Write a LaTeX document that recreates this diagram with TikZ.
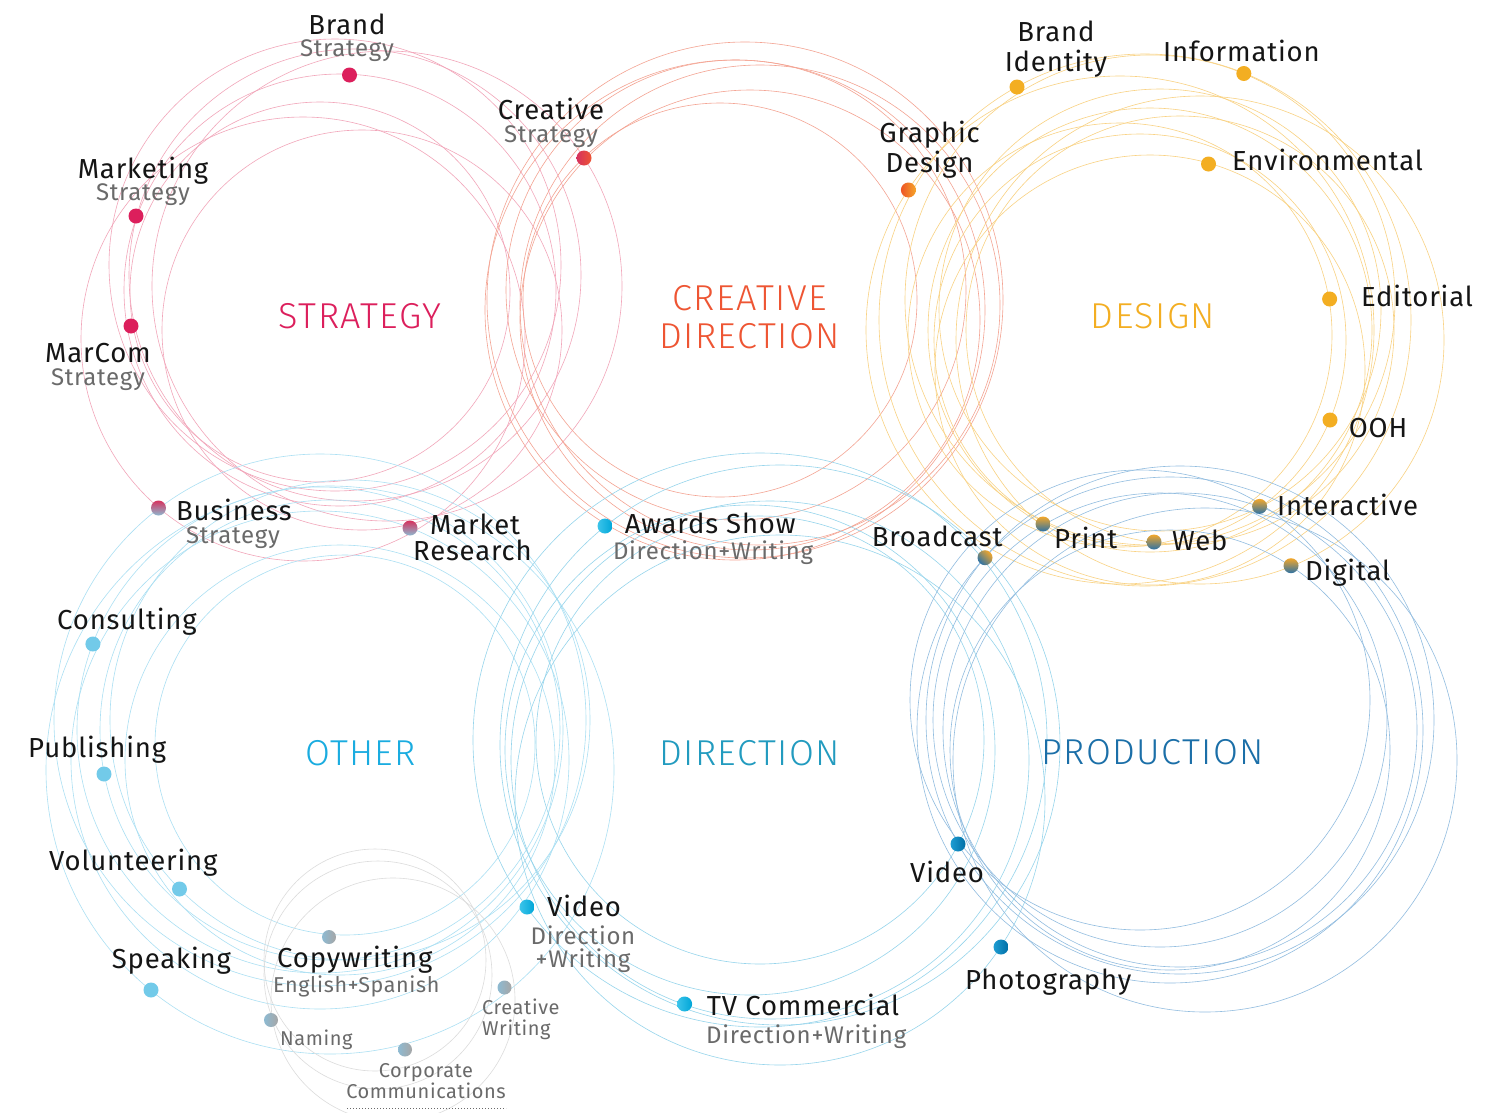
\documentclass[tikz,border=0pt]{standalone}
\usepackage{fontspec}
\setmainfont{Fira Sans}[LetterSpace=3.0]
\newfontfamily\catfont{Fira Sans Light}[LetterSpace=4.0]
\definecolor{labk}{HTML}{151515}
\definecolor{subgrey}{HTML}{6A6A6A}
\definecolor{stratc}{HTML}{DC1F5C}
\definecolor{credc}{HTML}{EE5533}
\definecolor{desc}{HTML}{F3AE22}
\definecolor{othc}{HTML}{1AACE0}
\definecolor{dirc}{HTML}{229BBF}
\definecolor{prodc}{HTML}{1B6FA8}
\definecolor{pinkl}{HTML}{F2A6BA}
\definecolor{salml}{HTML}{F4A493}
\definecolor{yell}{HTML}{F9D283}
\definecolor{othl}{HTML}{ACE0F3}
\definecolor{dirl}{HTML}{97D5EC}
\definecolor{prodl}{HTML}{92BDE0}
\definecolor{greyl}{HTML}{DCDCDC}
\definecolor{othdot}{HTML}{72CAE9}
\definecolor{dirA}{HTML}{3CC4EA}
\definecolor{dirB}{HTML}{00A6D8}
\definecolor{prodA}{HTML}{1E9DD2}
\definecolor{prodB}{HTML}{006EA6}
\definecolor{twoA}{HTML}{D6325E}
\definecolor{twoB}{HTML}{8DB8D0}
\definecolor{dpA}{HTML}{F3A72A}
\definecolor{dpB}{HTML}{2C72A6}
\definecolor{copyA}{HTML}{8DBAD2}
\definecolor{copyB}{HTML}{A6A6A6}
\definecolor{gdA}{HTML}{EE5526}
\definecolor{gdB}{HTML}{F5A52A}
\tikzset{
  ring/.style={line width=0.6pt},
  lab/.style={font=\fontsize{27.5}{30}\selectfont, text=labk, inner sep=0pt},
  sublab/.style={font=\fontsize{24}{26}\selectfont, text=subgrey, inner sep=0pt},
  sublabs/.style={font=\fontsize{21.5}{24}\selectfont, text=subgrey, inner sep=0pt},
  smalllab/.style={font=\fontsize{20}{22}\selectfont, text=subgrey, inner sep=0pt},
  cat/.style={font=\catfont\fontsize{36}{40}\selectfont, inner sep=0pt},
  skdot/.style={circle, inner sep=0pt, minimum size=15pt, draw=none},
  stratdot/.style={skdot, fill=stratc},
  desdot/.style={skdot, fill=desc},
  othdotst/.style={skdot, fill=othdot},
  dirdot/.style={skdot, left color=dirA, right color=dirB},
  proddot/.style={skdot, left color=prodA, right color=prodB},
  twodot/.style={skdot, top color=twoA, bottom color=twoB},
  dpdot/.style={skdot, top color=dpA, bottom color=dpB},
  copydot/.style={skdot, minimum size=14pt, left color=copyA, right color=copyB},
}
\begin{document}
\begin{tikzpicture}[x=1pt,y=-1pt]
\useasboundingbox (0,0) rectangle (1500,1112);
\fill[white] (0,0) rectangle (1500,1112);
% ---------- STRATEGY circles
\begin{scope}[ring, draw=pinkl]
\draw (340,290) circle[radius=216pt];
\draw (335,265) circle[radius=226pt];
\draw (355,275) circle[radius=226pt];
\draw (303,339) circle[radius=222pt];
\draw (362,330) circle[radius=200pt];
\draw (320,292) circle[radius=190pt];
\draw (387,286) circle[radius=235pt];
\end{scope}
% ---------- CREATIVE DIRECTION circles
\begin{scope}[ring, draw=salml]
\draw (745,300) circle[radius=258pt];
\draw (736,290) circle[radius=230pt];
\draw (760,305) circle[radius=240pt];
\draw (750,320) circle[radius=230pt];
\draw (720,300) circle[radius=197pt];
\draw (735,310) circle[radius=250pt];
\end{scope}
% ---------- DESIGN circles
\begin{scope}[ring, draw=yell]
\draw (1120,330) circle[radius=254pt];
\draw (1145,320) circle[radius=266pt];
\draw (1150,300) circle[radius=245pt];
\draw (1150,370) circle[radius=215pt];
\draw (1120,335) circle[radius=212pt];
\draw (1140,340) circle[radius=206pt];
\draw (1160,310) circle[radius=221pt];
\draw (1150,330) circle[radius=222pt];
\draw (1180,330) circle[radius=214pt];
\draw (1200,340) circle[radius=244pt];
\end{scope}
% ---------- OTHER circles
\begin{scope}[ring, draw=othl]
\draw (330,770) circle[radius=284pt];
\draw (320,730) circle[radius=243pt];
\draw (330,730) circle[radius=230pt];
\draw (350,720) circle[radius=240pt];
\draw (320,720) circle[radius=266pt];
\draw (320,760) circle[radius=249pt];
\draw (345,745) circle[radius=190pt];
\draw (340,760) circle[radius=215pt];
\end{scope}
% ---------- DIRECTION circles
\begin{scope}[ring, draw=dirl]
\draw (780,745) circle[radius=280pt];
\draw (770,760) circle[radius=259pt];
\draw (760,740) circle[radius=287pt];
\draw (780,800) circle[radius=265pt];
\draw (760,740) circle[radius=224pt];
\draw (750,750) circle[radius=245pt];
\end{scope}
% ---------- PRODUCTION circles
\begin{scope}[ring, draw=prodl]
\draw (1170,730) circle[radius=253pt];
\draw (1160,720) circle[radius=227pt];
\draw (1140,700) circle[radius=230pt];
\draw (1180,730) circle[radius=237pt];
\draw (1170,750) circle[radius=220pt];
\draw (1180,720) circle[radius=254pt];
\draw (1205,760) circle[radius=252pt];
\end{scope}
% ---------- COPYWRITING circles
\begin{scope}[ring, draw=greyl]
\draw (375,960) circle[radius=111pt];
\draw (378,975) circle[radius=114pt];
\draw (393,1000) circle[radius=122pt];
\end{scope}

% ---------- category labels
\node[cat, text=stratc, anchor=base] (cStrat) at (360,328.5) {STRATEGY};
\node[cat, text=credc, anchor=base] (cCre1) at (749.5,310) {CREATIVE};
\node[cat, text=credc, anchor=base] (cCre2) at (749.5,348) {DIRECTION};
\node[cat, text=desc, anchor=base] (cDes) at (1153,328) {DESIGN};
\node[cat, text=othc, anchor=base] (cOth) at (360.5,765.4) {OTHER};
\node[cat, text=dirc, anchor=base] (cDir) at (749.5,765.4) {DIRECTION};
\node[cat, text=prodc, anchor=base] (cProd) at (1153,764) {PRODUCTION};

% ---------- STRATEGY items
\node[stratdot] (dBrandS) at (349.5,75) {};
\node[lab, anchor=base] (tBrandS) at (347,34.5) {Brand};
\node[sublab, anchor=base] (sBrandS) at (347,56.5) {Strategy};
\node[skdot, left color=twoA, right color=credc] (dCreS) at (584,158) {};
\node[lab, anchor=base] (tCreS) at (551,119.5) {Creative};
\node[sublab, anchor=base] (sCreS) at (551,142) {Strategy};
\node[stratdot] (dMark) at (136,216) {};
\node[lab, anchor=base] (tMark) at (143,178.5) {Marketing};
\node[sublab, anchor=base] (sMark) at (143,200.6) {Strategy};
\node[stratdot] (dMarCom) at (131,326) {};
\node[lab, anchor=base] (tMarCom) at (98,362) {MarCom};
\node[sublab, anchor=base] (sMarCom) at (98,385) {Strategy};
\node[twodot] (dBus) at (158.5,508) {};
\node[lab, anchor=base west] (tBus) at (176,520) {Business};
\node[sublab, anchor=base] (sBus) at (233,543) {Strategy};
\node[twodot] (dMR) at (410,528) {};
\node[lab, anchor=base west] (tMR1) at (430,534) {Market};
\node[lab, anchor=base west] (tMR2) at (413,560) {Research};

% ---------- DESIGN items
\node[skdot, left color=gdA, right color=gdB] (dGD) at (908.4,190) {};
\node[lab, anchor=base] (tGD1) at (929.6,142) {Graphic};
\node[lab, anchor=base] (tGD2) at (929.6,172) {Design};
\node[desdot] (dBI) at (1017,87) {};
\node[lab, anchor=base] (tBI1) at (1056,41.5) {Brand};
\node[lab, anchor=base] (tBI2) at (1056,71) {Identity};
\node[desdot] (dInfo) at (1243.8,73.5) {};
\node[lab, anchor=base west] (tInfo) at (1163,61.3) {Information};
\node[desdot] (dEnv) at (1208.5,164) {};
\node[lab, anchor=base west] (tEnv) at (1232,170.8) {Environmental};
\node[desdot] (dEd) at (1329.6,299) {};
\node[lab, anchor=base west] (tEd) at (1361,306.4) {Editorial};
\node[desdot] (dOOH) at (1330,420) {};
\node[lab, anchor=base west] (tOOH) at (1348.6,437) {OOH};
\node[dpdot] (dInt) at (1259.6,506.4) {};
\node[lab, anchor=base west] (tInt) at (1277,515) {Interactive};
\node[dpdot, shading angle=-45] (dBroad) at (985,557.7) {};
\node[lab, anchor=base west] (tBroad) at (871.6,546) {Broadcast};
\node[dpdot] (dPrint) at (1043,524) {};
\node[lab, anchor=base west] (tPrint) at (1054,548.7) {Print};
\node[dpdot] (dWeb) at (1154,542) {};
\node[lab, anchor=base west] (tWeb) at (1171.8,550) {Web};
\node[dpdot] (dDig) at (1291,565.7) {};
\node[lab, anchor=base west] (tDig) at (1305,580.4) {Digital};

% ---------- DIRECTION items
\node[dirdot] (dAw) at (605,526) {};
\node[lab, anchor=base west] (tAw) at (624.6,533.6) {Awards Show};
\node[sublab, anchor=base west] (sAw) at (612.8,559) {Direction+Writing};
\node[dirdot] (dVidD) at (527,907) {};
\node[lab, anchor=base west] (tVidD) at (547,916.5) {Video};
\node[sublab, anchor=base] (sVidD1) at (583,944) {Direction};
\node[sublab, anchor=base] (sVidD2) at (583,967) {+Writing};
\node[dirdot] (dTV) at (684.6,1004) {};
\node[lab, anchor=base west] (tTV) at (706.7,1015.7) {TV Commercial};
\node[sublab, anchor=base west] (sTV) at (706,1043) {Direction+Writing};

% ---------- PRODUCTION items
\node[proddot] (dVidP) at (958,844) {};
\node[lab, anchor=base west] (tVidP) at (910,882.8) {Video};
\node[proddot] (dPhoto) at (1001,947) {};
\node[lab, anchor=base west] (tPhoto) at (965,989.6) {Photography};

% ---------- OTHER items
\node[othdotst] (dCons) at (92.9,644) {};
\node[lab, anchor=base west] (tCons) at (57,629.4) {Consulting};
\node[othdotst] (dPub) at (104,774) {};
\node[lab, anchor=base west] (tPub) at (28,757) {Publishing};
\node[othdotst] (dVol) at (179.5,889) {};
\node[lab, anchor=base west] (tVol) at (49,870) {Volunteering};
\node[othdotst] (dSpk) at (151,990) {};
\node[lab, anchor=base west] (tSpk) at (111.6,968.5) {Speaking};
\node[copydot] (dCopy) at (329,937) {};
\node[lab, anchor=base west] (tCopy) at (277,967) {Copywriting};
\node[sublabs, anchor=base west] (sCopy) at (273,992.5) {English+Spanish};
\node[copydot] (dNam) at (271,1020) {};
\node[smalllab, anchor=base west] (tNam) at (280,1045) {Naming};
\node[copydot] (dCorp) at (405,1049.5) {};
\node[smalllab, anchor=base] (tCorp1) at (426,1077) {Corporate};
\node[smalllab, anchor=base] (tCorp2) at (426,1098) {Communications};
\coordinate (uL) at (347,1108.6);
\coordinate (uR) at (506,1108.6);
\draw[subgrey, line width=1pt, dash pattern=on 1pt off 2pt] (uL) -- (uR);
\node[copydot] (dCW) at (504.5,987.5) {};
\node[smalllab, anchor=base west] (tCW1) at (482,1014.5) {Creative};
\node[smalllab, anchor=base west] (tCW2) at (482,1035) {Writing};
\end{tikzpicture}
\end{document}
